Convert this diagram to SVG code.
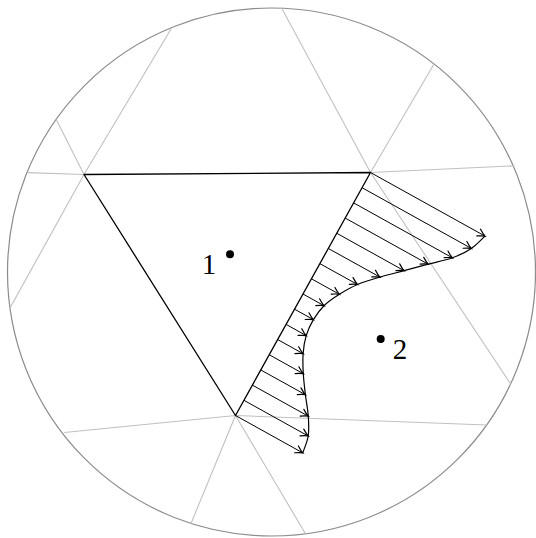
<svg xmlns="http://www.w3.org/2000/svg" width="536" height="538" viewBox="0 0 536 538">
<style>
.bnd{fill:none;stroke:#8c8c8c;stroke-width:1.2}
.mesh{fill:none;stroke:#c0c0c0;stroke-width:1.1}
.elem{fill:none;stroke:#000;stroke-width:1.3;stroke-linejoin:round}
.arr{fill:none;stroke:#000;stroke-width:1;marker-end:url(#to)}
.crv{fill:none;stroke:#000;stroke-width:1.2}
.lbl{font-family:"Liberation Serif","DejaVu Serif",serif;font-size:29px;fill:#000}
</style>
<defs>
<marker id="to" markerUnits="userSpaceOnUse" markerWidth="12" markerHeight="12" refX="0" refY="0" viewBox="-8 -5 10 10" orient="auto" overflow="visible">
<path d="M-6,-3.2 Q-2,-0.6 0,0 Q-2,0.6 -6,3.2" fill="none" stroke="#000" stroke-width="1" stroke-linecap="round"/>
</marker>
</defs>
<rect width="536" height="538" fill="#fff"/>
<g id="domain">
<circle class="bnd" cx="271.5" cy="272" r="264"/>
</g>
<g id="mesh">
<path class="mesh" d="M84,174.5 L56.4,119.7 M84,174.5 L27.4,172.6 M84,174.5 L171,29 M84,174.5 L10,308"/>
<path class="mesh" d="M370.5,172.5 L281.7,8.3 M370.5,172.5 L434,64 M370.5,172.5 L514.5,165.8 M370.5,172.5 L511,384.6"/>
<path class="mesh" d="M235.5,415.5 L64.3,432.5 M235.5,415.5 L191,523.5 M235.5,415.5 L305.5,533.8 M235.5,415.5 L487,425"/>
</g>
<g id="element1">
<path class="elem" d="M84,174.5 L370.5,172.5 L235.5,415.5 Z"/>
</g>
<g id="connectors">
<path class="arr" d="M370.5,172.5 L485,236.1"/>
<path class="arr" d="M362.06,187.69 L471.3,248.4"/>
<path class="arr" d="M353.63,202.88 L452.4,257.8"/>
<path class="arr" d="M345.19,218.06 L428.2,264.2"/>
<path class="arr" d="M336.75,233.25 L404.1,270.7"/>
<path class="arr" d="M328.31,248.44 L379.9,277.1"/>
<path class="arr" d="M319.88,263.63 L357.5,284.5"/>
<path class="arr" d="M311.44,278.81 L339.4,294.3"/>
<path class="arr" d="M303,294 L324,305.7"/>
<path class="arr" d="M294.56,309.19 L313.4,319.6"/>
<path class="arr" d="M286.13,324.38 L306.2,335.6"/>
<path class="arr" d="M277.69,339.56 L303.1,353.7"/>
<path class="arr" d="M269.25,354.75 L303.3,373.7"/>
<path class="arr" d="M260.81,369.94 L305.4,394.7"/>
<path class="arr" d="M252.38,385.13 L308.3,416.2"/>
<path class="arr" d="M243.94,400.31 L308.2,436"/>
<path class="arr" d="M235.5,415.5 L302.8,452.9"/>
</g>
<g id="traction-curve">
<path class="crv" d="M485,236.1 C480.43,240.2 476.73,244.78 471.3,248.4 C465.87,252.02 459.58,255.17 452.4,257.8 C445.22,260.43 436.25,262.05 428.2,264.2 C420.15,266.35 412.15,268.55 404.1,270.7 C396.05,272.85 387.67,274.8 379.9,277.1 C372.13,279.4 364.25,281.63 357.5,284.5 C350.75,287.37 344.98,290.77 339.4,294.3 C333.82,297.83 328.33,301.48 324,305.7 C319.67,309.92 316.37,314.62 313.4,319.6 C310.43,324.58 307.92,329.92 306.2,335.6 C304.48,341.28 303.58,347.35 303.1,353.7 C302.62,360.05 302.92,366.87 303.3,373.7 C303.68,380.53 304.57,387.62 305.4,394.7 C306.23,401.78 307.83,409.32 308.3,416.2 C308.77,423.08 309.12,429.88 308.2,436 C307.28,442.12 304.6,447.27 302.8,452.9"/>
</g>
<g id="node1">
<circle cx="230" cy="254.3" r="4" fill="#000"/>
<text class="lbl" x="209" y="273.5" text-anchor="middle">1</text>
</g>
<g id="node2">
<circle cx="380.7" cy="339" r="4" fill="#000"/>
<text class="lbl" x="400" y="358.5" text-anchor="middle">2</text>
</g>
</svg>
